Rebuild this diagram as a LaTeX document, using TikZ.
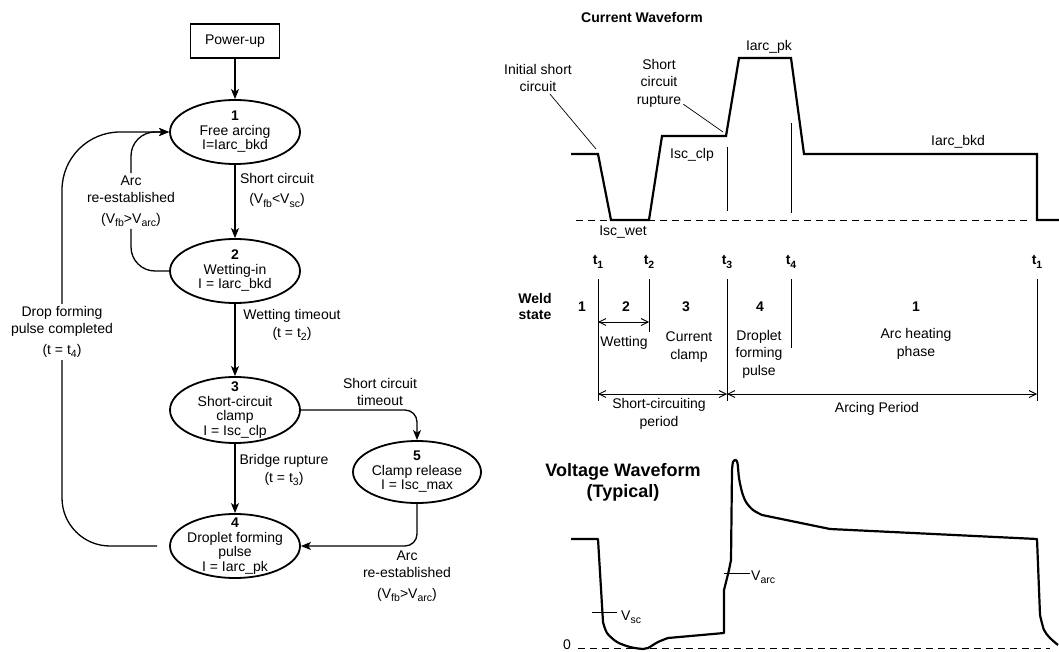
\documentclass[tikz,border=0pt]{standalone}
\usepackage{fontspec}
\setmainfont{Liberation Sans}
\usetikzlibrary{shapes.geometric, arrows.meta, positioning}
\newcommand{\sbs}[1]{\raisebox{-3.5pt}{\fontsize{10.5}{10.5}\selectfont #1}}

\begin{document}
\begin{tikzpicture}[
  x=1pt, y=-1pt,
  font=\fontsize{14}{17.5}\selectfont,
  statenode/.style={ellipse, draw, line width=1.8pt, minimum width=130, minimum height=64, inner sep=0pt},
  statetext/.style={align=center, font=\fontsize{14}{14.5}\selectfont},
  startbox/.style={rectangle, draw, line width=1.8pt, minimum width=89, minimum height=34},
  lbl/.style={align=center, inner sep=2pt},
  flow/.style={-{Stealth[length=10pt, width=8pt, inset=2.5pt]}, line width=1.3pt},
  loopline/.style={line width=1.3pt},
  wave/.style={line width=2.2pt},
  thinline/.style={line width=0.9pt},
  leader/.style={line width=0.7pt},
  zeroline/.style={line width=0.8pt, dash pattern=on 7pt off 5pt},
  dimarrow/.style={{Straight Barb[length=7pt, width=7pt]}-{Straight Barb[length=7pt, width=7pt]}, line width=0.9pt},
  heading/.style={font=\fontsize{14}{16}\selectfont\bfseries, align=center}
]
  \useasboundingbox (0,0) rectangle (1059,652);

  % State machine
  \node[startbox] (pwr) at (235,41) {Power-up};
  \node[statenode, label={[statetext]center:{\textbf{1}\\Free arcing\\I=Iarc\_bkd}}] (s1) at (235,132) {};
  \node[statenode, label={[statetext]center:{\textbf{2}\\Wetting-in\\I = Iarc\_bkd}}] (s2) at (235,271) {};
  \node[statenode, minimum height=66, label={[statetext]center:{\textbf{3}\\Short-circuit\\clamp\\I = Isc\_clp}}] (s3) at (235,410) {};
  \node[statenode, label={[statetext]center:{\textbf{4}\\Droplet forming\\pulse\\I = Iarc\_pk}}] (s4) at (235,546) {};
  \node[statenode, minimum width=128, minimum height=62, label={[statetext]center:{\textbf{5}\\Clamp release\\I = Isc\_max}}] (s5) at (417,472) {};

  % Transition labels
  \node[lbl] (sclab) at (277,190) {Short circuit\\[3pt](V\sbs{fb}<V\sbs{sc})};
  \node[lbl] (wtlab) at (292,325) {Wetting timeout\\(t = t\sbs{2})};
  \node[lbl] (brlab) at (284,470) {Bridge rupture\\(t = t\sbs{3})};
  \node[lbl] (sctlab) at (380,392) {Short circuit\\timeout};
  \node[lbl] (arclab) at (407,576) {Arc\\re-established\\[3pt](V\sbs{fb}>V\sbs{arc})};
  \node[lbl] (arcback) at (131,201) {Arc\\re-established\\[3pt](V\sbs{fb}>V\sbs{arc})};
  \node[lbl] (dropback) at (62,332) {Drop forming\\pulse completed\\[3pt](t = t\sbs{4})};

  % Transitions
  \draw[flow] (pwr) -- (s1);
  \draw[flow] (s1) -- (s2);
  \draw[flow] (s2) -- (s3);
  \draw[flow] (s3) -- (s4);
  \draw[flow, rounded corners=12] (s3.east) -| (s5.north);
  \draw[flow, rounded corners=12] (s5.south) |- (s4.east);
  \draw[loopline, rounded corners=24] (s2.west) -| (arcback.south);
  \draw[flow, rounded corners=24] (arcback.north) |- (s1.west);
  \draw[loopline, rounded corners=48, shorten <=12pt] (s4.west) -| (dropback.south);
  \draw[flow, rounded corners=58] (dropback.north) |- (s1.west);

  % Current waveform
  \node[heading] (curtitle) at (642,17) {Current Waveform};
  \draw[zeroline] (576,220) -- (1030,220);
  \draw[wave] (571,154) -- (598,154) -- (611,220) -- (649,220) -- (662,136) -- (726,136) -- (739,58) -- (791,58) -- (804,154) -- (1037,154) -- (1037,220) -- (1062,220);
  \draw[thinline] (727,147) -- (727,211);
  \draw[thinline] (791,123) -- (791,213);
  \node[lbl] (initsc) at (538,78) {Initial short\\circuit};
  \node[lbl] (rupt) at (659,83) {Short\\circuit\\rupture};
  \node (iarcpk) at (769,47) {Iarc\_pk};
  \node (iscclp) at (692,155) {Isc\_clp};
  \node (iarcbkd) at (958,142) {Iarc\_bkd};
  \node (iscwet) at (623,232) {Isc\_wet};
  \draw[leader] ([xshift=12pt]initsc.south) -- (596,149);
  \draw[leader] ([yshift=5pt]rupt.south east) -- (723,132);

  % Weld state timeline
  \node[heading] (weld) at (535,306) {Weld\\state};
  \node[heading] (ta) at (598,262) {t\sbs{1}};
  \node[heading] (tb) at (649,262) {t\sbs{2}};
  \node[heading] (tc) at (727,262) {t\sbs{3}};
  \node[heading] (td) at (791,262) {t\sbs{4}};
  \node[heading] (te) at (1037,262) {t\sbs{1}};
  \draw[thinline] (598,279) -- (598,401);
  \draw[thinline] (649,279) -- (649,332);
  \draw[thinline] (727,279) -- (727,401);
  \draw[thinline] (791,279) -- (791,348);
  \draw[thinline] (1037,279) -- (1037,401);
  \node[heading] (wsa) at (582,307) {1};
  \node[heading] (wsb) at (626,307) {2};
  \node[heading] (wsc) at (686,307) {3};
  \node[heading] (wsd) at (760,307) {4};
  \node[heading] (wse) at (916,307) {1};
  \draw[dimarrow] (598,322) -- (649,322);
  \node[lbl] (wetting) at (624,343) {Wetting};
  \node[lbl] (clamp) at (689,347) {Current\\clamp};
  \node[lbl] (droplet) at (759,354) {Droplet\\forming\\pulse};
  \node[lbl] (heating) at (916,344) {Arc heating\\phase};
  \draw[dimarrow] (598,394) -- (727,394);
  \draw[dimarrow] (727,394) -- (1037,394);
  \node[lbl] (scper) at (659,414) {Short-circuiting\\period};
  \node[lbl] (arcper) at (877,409) {Arcing Period};

  % Voltage waveform
  \node[heading, font=\fontsize{18}{21}\selectfont\bfseries] (volttitle) at (623,482) {Voltage Waveform\\(Typical)};
  \draw[zeroline] (578,648) -- (1050,648);
  \node[inner sep=0.5pt] (zero) at (567,645) {0};
  \draw[wave, line join=round] (571,539) -- (598,539) -- (603,622)
    -- plot[smooth, tension=0.5] coordinates {(603,622) (607,633) (617,642) (630,647) (643,649) (648,648) (658,642) (668,638)}
    -- (724,633) -- (724,590) -- (729,570) -- (731,560) -- (732,470)
    -- plot[smooth, tension=0.5] coordinates {(732,470) (733,462) (735.5,460) (737.5,463) (739,478) (742,492) (746,502) (753,510) (762,515)}
    -- (830,529) -- (1037,539) -- (1040,615)
    -- plot[smooth, tension=0.5] coordinates {(1040,615) (1044,630) (1050,638) (1058,645)};
  \draw[thinline] (592,612) -- (617,612);
  \node[anchor=west, inner sep=1pt] (vsc) at (620,617) {V\sbs{sc}};
  \draw[thinline] (724,573) -- (750,573);
  \node[anchor=west, inner sep=1pt] (varc) at (750,577) {V\sbs{arc}};
\end{tikzpicture}
\end{document}
